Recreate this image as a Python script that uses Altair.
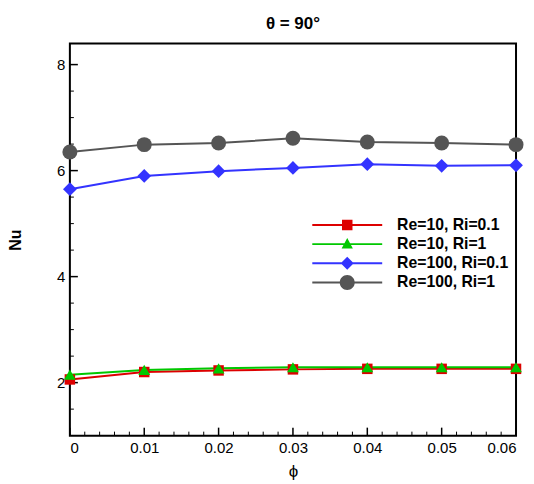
import altair as alt
import pandas as pd

# ---------------- data ----------------
phi = [0.0, 0.01, 0.02, 0.03, 0.04, 0.05, 0.06]
series_names = ["Re=10, Ri=0.1", "Re=10, Ri=1", "Re=100, Ri=0.1", "Re=100, Ri=1"]
nu_re10_ri01 = [2.06, 2.20, 2.23, 2.25, 2.26, 2.26, 2.26]
nu_re10_ri1 = [2.15, 2.24, 2.27, 2.29, 2.29, 2.29, 2.29]
nu_re100_ri01 = [5.65, 5.90, 5.99, 6.05, 6.12, 6.09, 6.10]
nu_re100_ri1 = [6.35, 6.49, 6.52, 6.61, 6.54, 6.52, 6.49]
nu_all = [nu_re10_ri01, nu_re10_ri1, nu_re100_ri01, nu_re100_ri1]

x_major = [0.0, 0.01, 0.02, 0.03, 0.04, 0.05, 0.06]
x_minor = [0.002, 0.004, 0.006, 0.008, 0.012, 0.014, 0.016, 0.018,
           0.022, 0.024, 0.026, 0.028, 0.032, 0.034, 0.036, 0.038,
           0.042, 0.044, 0.046, 0.048, 0.052, 0.054, 0.056, 0.058]
y_major = [2, 4, 6, 8]
y_minor = [1.5, 2.5, 3, 3.5, 4.5, 5, 5.5, 6.5, 7, 7.5]

# ---------------- styles ----------------
colors = ["#dd0000", "#00c800", "#3333ff", "#555555"]
marker_shapes = ["square", "triangle-up", "diamond", "circle"]
marker_sizes = [110, 140, 190, 225]
# legend symbols: a line with the marker in its middle (unit = sqrt(size)/2)
bar = "M-4.67,-0.13H4.67V0.13H-4.67Z "
legend_paths = [
    bar + "M-0.7,-0.7H0.7V0.7H-0.7Z",
    bar + "M0,-0.8L0.75,0.6H-0.75Z",
    bar + "M0,-0.87L0.87,0L0,0.87L-0.87,0Z",
    bar + "M1,0A1,1 0 1,1 -1,0A1,1 0 1,1 1,0Z",
]

rows = []
for name, vals in zip(series_names, nu_all):
    for p, v in zip(phi, vals):
        rows.append({"phi": p, "Nu": v, "series": name})
df = pd.DataFrame(rows)

FONT = "Liberation Sans"
W, H = 447, 393

x_scale = alt.Scale(domain=[0, 0.06], nice=False, zero=False)
y_scale = alt.Scale(domain=[1, 8.4], nice=False, zero=False)

x_axis = alt.Axis(values=x_major, format="~g", title="ϕ", grid=False, ticks=False,
                  domain=False, labelFont=FONT, labelFontSize=15, labelColor="black",
                  labelPadding=5, titleFont=FONT, titleFontSize=17,
                  titleFontWeight="normal", titleColor="black", titlePadding=8)
y_axis = alt.Axis(values=y_major, title="Nu", grid=False, ticks=False, domain=False,
                  labelFont=FONT, labelFontSize=15, labelColor="black",
                  labelPadding=5, titleFont=FONT, titleFontSize=16,
                  titleFontWeight="bold", titleColor="black", titlePadding=33)

X = alt.X("phi:Q", scale=x_scale, axis=x_axis)
Y = alt.Y("Nu:Q", scale=y_scale, axis=y_axis)

line_layers = []
point_layers = []
for name, col, shp, sz in zip(series_names, colors, marker_shapes, marker_sizes):
    base = alt.Chart(df).transform_filter(alt.datum.series == name)
    line_layers.append(base.mark_line(strokeWidth=2, color=col).encode(x=X, y=Y))
    point_layers.append(base.mark_point(filled=True, opacity=1, color=col,
                                        shape=shp, size=sz).encode(x=X, y=Y))

legend_props = dict(
    values=series_names, title=None, orient="none",
    legendX=270, legendY=174, padding=0,
    symbolSize=225, symbolStrokeWidth=0, symbolOpacity=1,
    labelFont=FONT, labelFontSize=15.8, labelFontWeight="bold",
    labelColor="black", labelOffset=42, rowPadding=2.2,
)

legend_layer = alt.Chart(df).transform_filter("false").mark_point(
    filled=True, opacity=1
).encode(
    x=X, y=Y,
    color=alt.Color("series:N", scale=alt.Scale(domain=series_names, range=colors),
                    legend=alt.Legend(**legend_props)),
    shape=alt.Shape("series:N", scale=alt.Scale(domain=series_names, range=legend_paths),
                    legend=alt.Legend(**legend_props)),
)

xt_major = alt.Chart(pd.DataFrame({"phi": x_major})).mark_rule(
    color="black", strokeWidth=1.5).encode(
    x=X, y=alt.value(H), y2=alt.value(H - 8))
xt_minor = alt.Chart(pd.DataFrame({"phi": x_minor})).mark_rule(
    color="black", strokeWidth=1).encode(
    x=X, y=alt.value(H), y2=alt.value(H - 4))
yt_major = alt.Chart(pd.DataFrame({"Nu": y_major})).mark_rule(
    color="black", strokeWidth=1.5).encode(
    y=Y, x=alt.value(0), x2=alt.value(8))
yt_minor = alt.Chart(pd.DataFrame({"Nu": y_minor})).mark_rule(
    color="black", strokeWidth=1).encode(
    y=Y, x=alt.value(0), x2=alt.value(4))

chart = alt.layer(
    xt_major, xt_minor, yt_major, yt_minor, *line_layers, *point_layers, legend_layer
).properties(
    width=W, height=H,
    background="white",
    autosize=alt.AutoSizeParams(type="none"),
    padding={"left": 62, "top": 35, "right": 10, "bottom": 48},
    title=alt.Title("θ = 90°", font=FONT, fontSize=17, fontWeight="bold",
                    color="black", offset=10, anchor="middle"),
).configure_view(
    stroke="black", strokeWidth=2
)

chart.save("out.html", embed_options={"renderer": "svg", "actions": False})
